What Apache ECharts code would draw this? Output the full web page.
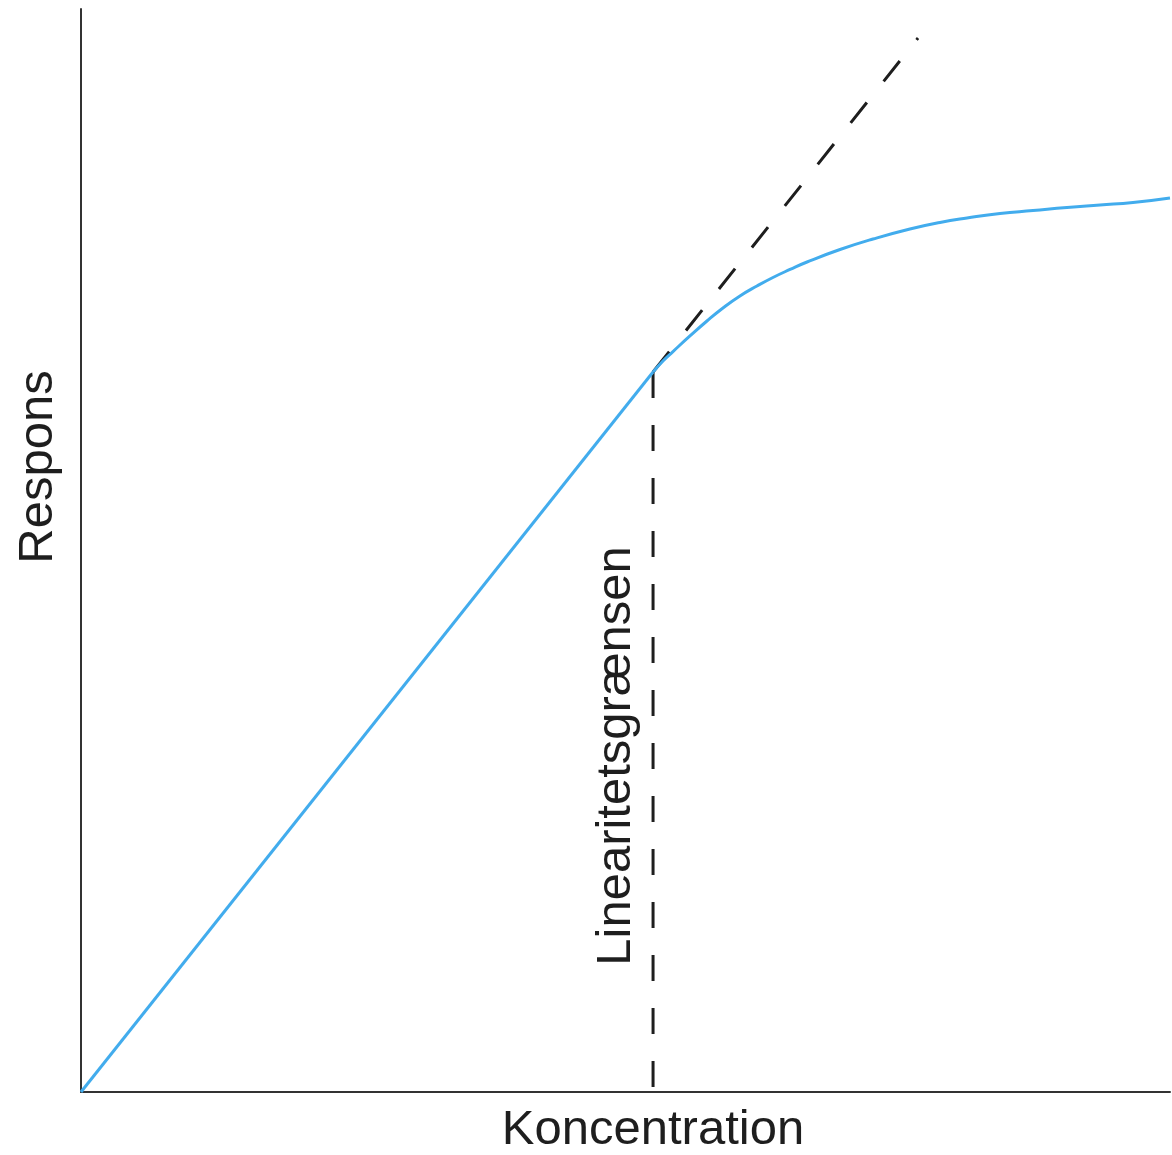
<!DOCTYPE html>
<html>
<head>
<meta charset="utf-8">
<script src="https://cdn.jsdelivr.net/npm/echarts@6/dist/echarts.min.js"></script>
<style>html,body{margin:0;padding:0;background:#fff}#c{width:1172px;height:1155px}</style>
</head>
<body>
<div id="c"></div>
<script>
// Data (arbitrary units, 0..100 on both axes)
var xAxisName = 'Koncentration';
var yAxisName = 'Respons';
var limitLabel = 'Linearitetsgrænsen';
var linearPart = [[0, 0], [52.53, 66.48]];
var curvePart = [
  [52.53, 66.48], [53.44, 67.50], [54.36, 68.37], [55.92, 69.81], [57.48, 71.19],
  [58.95, 72.39], [60.51, 73.50], [62.07, 74.42], [63.54, 75.21], [65.11, 75.95],
  [66.67, 76.64], [69.70, 77.79], [72.73, 78.76], [76.12, 79.69], [78.88, 80.29],
  [81.36, 80.70], [84.39, 81.12], [87.42, 81.39], [90.54, 81.67], [93.57, 81.90],
  [96.60, 82.13], [100, 82.55]
];
var tangentPart = [[52.53, 66.48], [76.86, 97.32]];
var limitPart = [[52.53, 66.48], [52.53, 0]];

var chart = echarts.init(document.getElementById('c'), null, {renderer: 'canvas'});
var font = 'Liberation Sans, Arial, Helvetica, sans-serif';
var blue = '#42aced';
var dark = '#1e1e1e';
chart.setOption({
  animation: false,
  backgroundColor: '#fff',
  grid: {left: 81, top: 9, width: 1089, height: 1083, containLabel: false},
  xAxis: {
    type: 'value', min: 0, max: 100,
    axisLine: {show: true, onZero: false, lineStyle: {color: '#333', width: 2}},
    axisTick: {show: false}, axisLabel: {show: false}, splitLine: {show: false}
  },
  yAxis: {
    type: 'value', min: 0, max: 100,
    axisLine: {show: true, onZero: false, lineStyle: {color: '#333', width: 2}},
    axisTick: {show: false}, axisLabel: {show: false}, splitLine: {show: false}
  },
  series: [
    {type: 'line', data: tangentPart, symbol: 'none', silent: true,
     lineStyle: {color: dark, width: 3, type: [26, 27]}},
    {type: 'line', data: limitPart, symbol: 'none', silent: true,
     lineStyle: {color: dark, width: 3, type: [26, 27]}},
    {type: 'line', data: linearPart, symbol: 'none', silent: true,
     lineStyle: {color: blue, width: 3}},
    {type: 'line', data: curvePart, symbol: 'none', smooth: 0.5, silent: true,
     lineStyle: {color: blue, width: 3}}
  ],
  graphic: [
    {type: 'text', x: 653, y: 1130, style: {text: xAxisName, font: '49px ' + font, fill: dark, align: 'center', verticalAlign: 'middle'}},
    {type: 'text', x: 38, y: 467, rotation: Math.PI / 2, style: {text: yAxisName, font: '49px ' + font, fill: dark, align: 'center', verticalAlign: 'middle'}},
    {type: 'text', x: 616, y: 756, rotation: Math.PI / 2, style: {text: limitLabel, font: '49px ' + font, fill: dark, align: 'center', verticalAlign: 'middle'}}
  ]
});
</script>
</body>
</html>
